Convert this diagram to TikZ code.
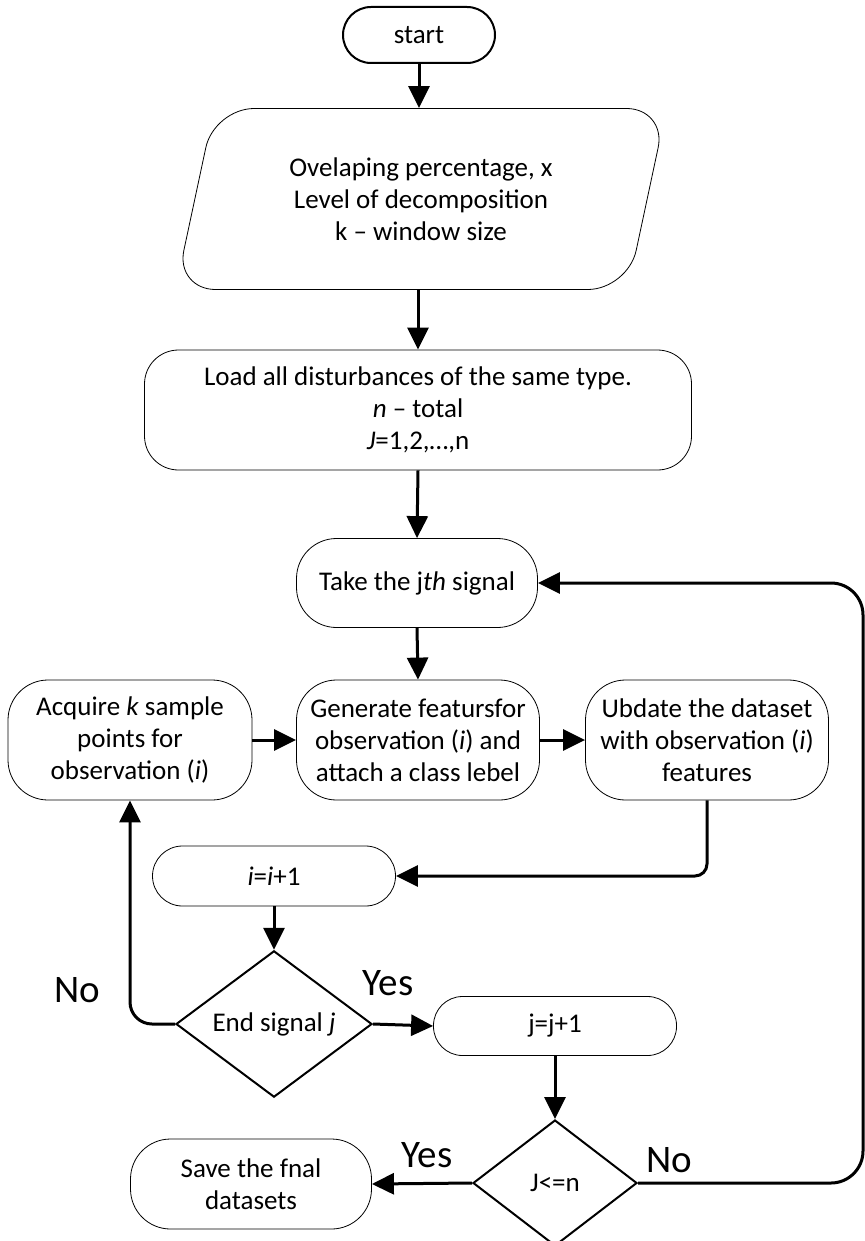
\documentclass[tikz,border=0pt]{standalone}
\usepackage{fontspec}
\setmainfont{Carlito}
\usetikzlibrary{shapes.geometric,arrows.meta}

\begin{document}
\begin{tikzpicture}[x=1pt,y=-1pt,
    every node/.style={font=\fontsize{27}{32}\selectfont},
    proc/.style={draw, line width=0.8pt, align=center, inner sep=0pt, minimum width=243pt, minimum height=120pt, rounded corners=40pt},
    term/.style={proc, line width=2pt, rounded corners=28pt},
    decide/.style={draw, diamond, line width=2pt, inner sep=0pt},
    flow/.style={line width=3pt, -{Triangle[length=22pt,width=21pt]}},
    answer/.style={font=\fontsize{39}{44}\selectfont}]
            \useasboundingbox (0,0) rectangle (864,1241);

            \node[term, minimum width=152pt, minimum height=56pt] (start) at (419,35) {start};
            \node[draw, trapezium, trapezium left angle=65, trapezium right angle=115,
                  trapezium stretches body, minimum width=491pt, minimum height=181pt,
                  line width=0.8pt, rounded corners=40pt, align=center, inner sep=0pt] (input) at (421,199)
                  {Ovelaping percentage, x\\Level of decomposition\\k -- window size};
            \node[proc, minimum width=547pt, rounded corners=34pt] (load) at (418,410)
                  {Load all disturbances of the same type.\\\textit{n} -- total\\\textit{J}=1,2,\ldots,n};
            \node[proc, minimum width=241pt, minimum height=89pt] (take) at (417,583) {Take the j\textit{th} signal};
            \node[proc, minimum width=244pt] (acq) at (130,740) {Acquire \textit{k} sample\\points for\\observation (\textit{i})};
            \node[proc] (gen) at (418,740) {Generate featursfor\\observation (\textit{i}) and\\attach a class lebel};
            \node[proc] (upd) at (707,740) {Ubdate the dataset\\with observation (\textit{i})\\features};
            \node[proc, minimum height=60pt, rounded corners=30pt] (inc) at (274,876) {\textit{i}=\textit{i}+1};
            \node[decide, minimum width=196pt, minimum height=145pt] (endsig) at (274,1024) {End signal \textit{j}};
            \node[proc, minimum height=59pt, rounded corners=29pt] (jinc) at (555,1026) {j=j+1};
            \node[decide, minimum width=164pt, minimum height=126pt] (jle) at (555,1183) {J<=n};
            \node[proc, minimum width=241pt, minimum height=90pt] (save) at (251,1184) {Save the fnal\\datasets};

            \node[answer] (yes1) at (388,983) {Yes};
            \node[answer] (no1) at (77,990) {No};
            \node[answer] (yes2) at (427,1155) {Yes};
            \node[answer] (no2) at (669,1160) {No};

            \draw[flow] (start.south) -- (start.south |- input.north);
            \draw[flow] (input.south -| load.north) -- (load.north);
            \draw[flow] (load.south) -- (take.north);
            \draw[flow] (take.south) -- (gen.north);
            \draw[flow] (acq.east) -- (gen.west);
            \draw[flow] (gen.east) -- (upd.west);
            \draw[flow, rounded corners=12pt] (upd.south) |- (inc.east);
            \draw[flow] (inc.south) -- (endsig.north);
            \draw[flow, rounded corners=22pt] (endsig.west) -| (acq.south);
            \draw[flow] (endsig.east) -- (jinc.west);
            \draw[flow] (jinc.south) -- (jle.north);
            \draw[flow] (jle.west) -- (save.east);
            \draw[flow, rounded corners=32pt] (jle.east) -- ++(225,0) |- (take.east);
        \end{tikzpicture}
\end{document}
